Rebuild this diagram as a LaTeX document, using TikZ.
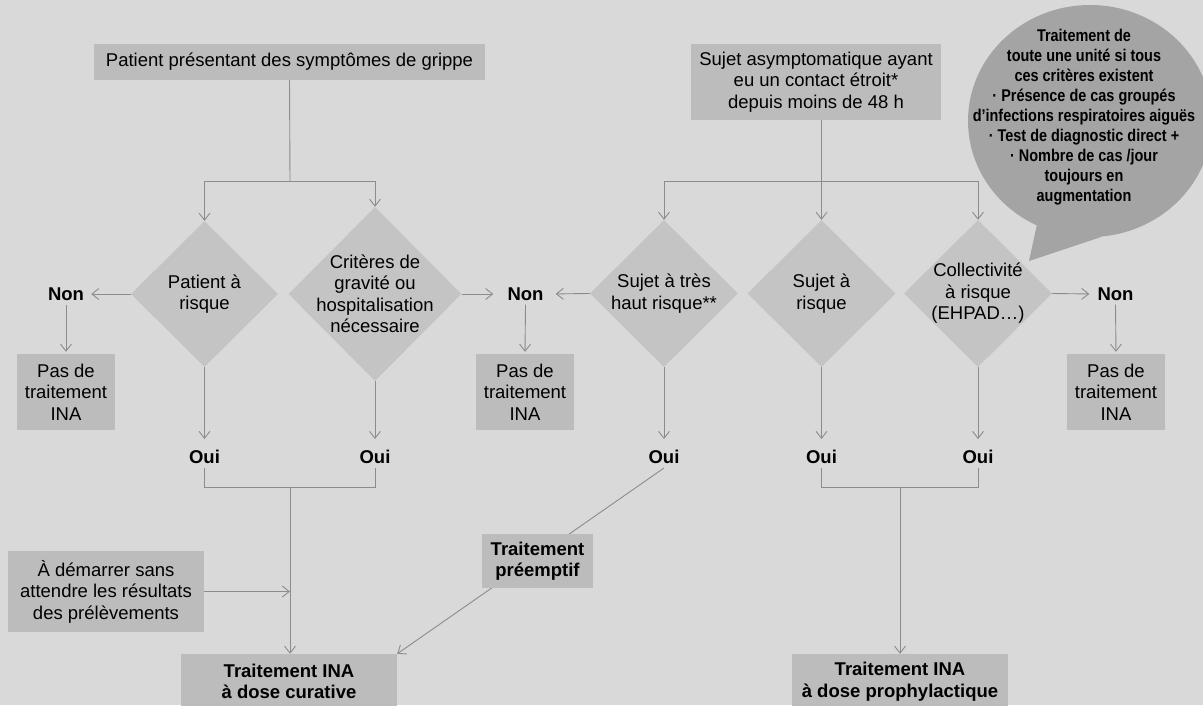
\documentclass[tikz,border=0pt]{standalone}
\usepackage{fontspec}
\setmainfont{Liberation Sans}
\newfontfamily\condfont[FakeStretch=0.85]{Liberation Sans Bold}
\usetikzlibrary{arrows.meta,shapes.geometric}
\definecolor{bgc}{HTML}{D9D9D9}
\definecolor{diac}{HTML}{C4C4C4}
\definecolor{boxc}{HTML}{BCBCBC}
\definecolor{bubc}{HTML}{A4A4A4}
\definecolor{lnc}{HTML}{8C8C8C}
\begin{document}
\begin{tikzpicture}[x=1pt,y=-1pt,
  txt/.style={font=\fontsize{18.5}{21.5}\selectfont, align=center, text=black, inner sep=0pt},
  boxnode/.style={txt, fill=boxc},
  boldbox/.style={boxnode, font=\fontsize{18.5}{21.5}\selectfont\bfseries},
  dianode/.style={shape=diamond, fill=diac, inner sep=0pt, aspect=1},
  lbl/.style={font=\fontsize{18.5}{21.5}\selectfont\bfseries, inner sep=4pt},
  conn/.style={draw=lnc, line width=0.9pt},
  arr/.style={conn, -{Straight Barb[length=7pt,width=11pt]}},
]
\fill[bgc] (0,0) rectangle (1203,705);
\useasboundingbox (0,0) rectangle (1203,705);

% speech bubble
\node[ellipse, fill=bubc, minimum width=244pt, minimum height=232pt, inner sep=0pt] (bub) at (1090,121) {};
\coordinate (tip) at (1029,261);
\fill[bubc] (bub.243) -- (tip) -- (bub.276) -- cycle;
\node[font=\fontsize{17}{20}\condfont, align=center, inner sep=0pt] (bubt) at (1084,117)
 {Traitement de\\toute une unité si tous\\ces critères existent\\· Présence de cas groupés\\d’infections respiratoires aiguës\\· Test de diagnostic direct +\\· Nombre de cas /jour\\toujours en\\augmentation};

% top boxes
\node[boxnode, minimum width=391pt, minimum height=36pt] (p1) at (289.5,62) {Patient présentant des symptômes de grippe};
\node[boxnode, minimum width=250pt, minimum height=76pt] (p2) at (816,82) {Sujet asymptomatique ayant\\eu un contact étroit*\\depuis moins de 48 h};

% diamonds
\node[dianode, minimum width=147pt, minimum height=146pt] (d1) at (204.5,294) {};
\node[txt] (d1t) at (d1) {Patient à\\risque};
\node[dianode, minimum width=173pt, minimum height=174pt] (d2) at (375,294) {};
\node[txt] (d2t) at (d2) {Critères de\\gravité ou\\hospitalisation\\nécessaire};
\node[dianode, minimum width=148pt, minimum height=147pt] (d3) at (664,293.5) {};
\node[txt] (d3t) at (d3) {Sujet à très\\haut risque**};
\node[dianode, minimum width=148pt, minimum height=147pt] (d4) at (821.5,293.5) {};
\node[txt] (d4t) at (d4) {Sujet à\\risque};
\node[dianode, minimum width=148pt, minimum height=147pt] (d5) at (978,293.5) {};
\node[txt] (d5t) at (d5) {Collectivité\\à risque\\(EHPAD…)};

% Non labels and boxes
\node[lbl] (non1) at (66,294) {Non};
\node[lbl] (non2) at (525.5,294) {Non};
\node[lbl] (non3) at (1115.5,294) {Non};
\node[boxnode, minimum width=98pt, minimum height=76pt] (pas1) at (66,392) {Pas de\\traitement\\INA};
\node[boxnode, minimum width=98pt, minimum height=76pt] (pas2) at (525,392) {Pas de\\traitement\\INA};
\node[boxnode, minimum width=98pt, minimum height=76pt] (pas3) at (1116,392) {Pas de\\traitement\\INA};

% Oui labels
\node[lbl] (oui1) at (204.5,457) {Oui};
\node[lbl] (oui2) at (375,457) {Oui};
\node[lbl] (oui3) at (664,457) {Oui};
\node[lbl] (oui4) at (821.5,457) {Oui};
\node[lbl] (oui5) at (978,457) {Oui};

% bottom boxes
\node[boldbox, minimum width=216pt, minimum height=55pt] (cur) at (289,681.5) {Traitement INA\\à dose curative};
\node[boldbox, minimum width=216pt, minimum height=55pt] (pro) at (900,681.5) {Traitement INA\\à dose prophylactique};
\node[boxnode, minimum width=196pt, minimum height=81pt] (dem) at (106,591.5) {À démarrer sans\\attendre les résultats\\des prélèvements};

% top connectors
\coordinate (j0) at (290,181);
\draw[conn] (p1.south) -- (j0);
\draw[arr] (j0) -| (d1.north);
\draw[arr] (j0) -| (d2.north);
\coordinate (j3) at (821.5,181);
\draw[conn] (j3 |- p2.south) -- (j3);
\draw[arr] (j3) -| (d3.north);
\draw[arr] (j3) -- (d4.north);
\draw[arr] (j3) -| (d5.north);

% side connectors
\draw[arr, shorten >=3pt] (d1.west) -- (non1.east);
\draw[arr, shorten >=10pt] (d2.east) -- (non2.west);
\draw[arr, shorten >=8pt] (d3.west) -- (non2.east);
\draw[arr, shorten >=4pt] (d5.east) -- (non3.west);
\draw[arr, shorten >=2pt] (non1.south) -- (pas1.north);
\draw[arr, shorten >=2pt] (non2.south) -- (pas2.north);
\draw[arr, shorten >=2pt] (non3.south) -- (pas3.north);

% diamond -> oui
\draw[arr, shorten >=7pt] (d1.south) -- (oui1.north);
\draw[arr, shorten >=7pt] (d2.south) -- (oui2.north);
\draw[arr, shorten >=7pt] (d3.south) -- (oui3.north);
\draw[arr, shorten >=7pt] (d4.south) -- (oui4.north);
\draw[arr, shorten >=7pt] (d5.south) -- (oui5.north);

% bottom joins
\coordinate (j1) at (290,487);
\draw[conn] (oui1.south) |- (j1);
\draw[conn] (oui2.south) |- (j1);
\draw[arr] (j1) -- (j1 |- cur.north);
\coordinate (j2) at (900,487);
\draw[conn] (oui4.south) |- (j2);
\draw[conn] (oui5.south) |- (j2);
\draw[arr] (j2) -- (j2 |- pro.north);
\draw[arr] (dem.east) -- (dem.east -| j1);

% preemptive
\draw[arr] (oui3.south) -- (cur.north east);
\node[boldbox, minimum width=111pt, minimum height=54pt] (pre) at (537.5,561) {Traitement\\préemptif};
\end{tikzpicture}
\end{document}
